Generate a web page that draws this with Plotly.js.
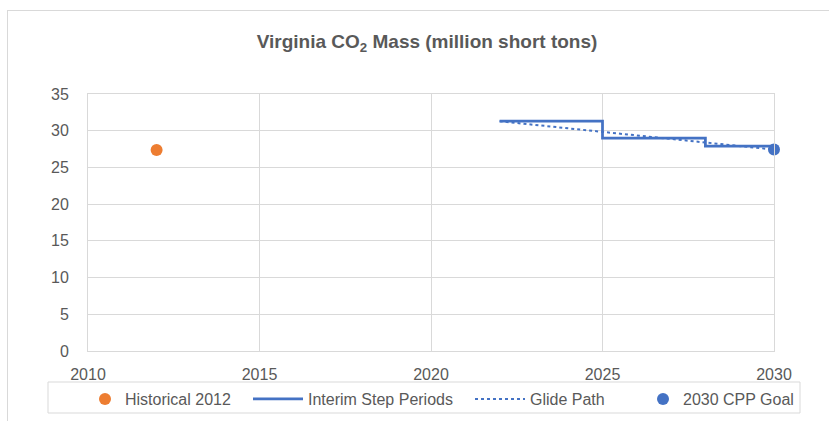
<!DOCTYPE html>
<html><head><meta charset="utf-8">
<script src="https://cdn.plot.ly/plotly-3.0.1.min.js"></script>
<style>
html,body{margin:0;padding:0;background:#fff;overflow:hidden;}
#wrap{position:relative;width:829px;height:421px;}
#chart{position:absolute;left:0;top:0;width:829px;height:421px;}
#frame{position:absolute;left:7px;top:10px;width:900px;height:500px;border:1px solid #d9d9d9;pointer-events:none;}
</style></head>
<body><div id="wrap"><div id="chart"></div><div id="frame"></div></div>
<script>
const histYears = [2012];
const histValues = [27.36];
const stepYears = [2022, 2025, 2028, 2030];
const stepValues = [31.29, 28.99, 27.90, 27.90];
const glideYears = [2022, 2025, 2028, 2030];
const glideValues = [31.29, 29.84, 28.40, 27.43];
const goalYears = [2030];
const goalValues = [27.43];
const seriesNames = ["Historical 2012", "Interim Step Periods", "Glide Path", "2030 CPP Goal"];
const xTicks = [2010, 2015, 2020, 2025, 2030];
const yTicks = [0, 5, 10, 15, 20, 25, 30, 35];

const FONT = "Liberation Sans, Arial, sans-serif";
const TXT = "#595959";
const L = 88, R = 774, T = 94, B = 351;
const px2x = p => (p - L) / (R - L);
const px2y = p => (B - p) / (B - T);

const traces = [
  {x: histYears, y: histValues, name: seriesNames[0], mode: "markers", type: "scatter",
   marker: {color: "#ED7D31", size: 12}, legend: "legend", cliponaxis: false},
  {x: stepYears, y: stepValues, name: seriesNames[1], mode: "lines", type: "scatter",
   line: {color: "#4472C4", width: 2.75, shape: "hv"}, legend: "legend2", cliponaxis: false},
  {x: glideYears, y: glideValues, name: seriesNames[2], mode: "lines", type: "scatter",
   line: {color: "#4472C4", width: 2, dash: "dot"}, legend: "legend3", cliponaxis: false},
  {x: goalYears, y: goalValues, name: seriesNames[3], mode: "markers", type: "scatter",
   marker: {color: "#4472C4", size: 12}, legend: "legend4", cliponaxis: false}
];

function leg(px, iw) {
  return {x: px2x(px), xanchor: "left", y: px2y(382), yanchor: "top", orientation: "h",
    itemwidth: iw, bgcolor: "rgba(0,0,0,0)", borderwidth: 0,
    font: {family: FONT, size: 16, color: TXT}};
}

const layout = {
  width: 829, height: 421,
  margin: {l: L, r: 829 - R, t: T, b: 421 - B, pad: 0, autoexpand: false},
  paper_bgcolor: "rgba(0,0,0,0)", plot_bgcolor: "#fff",
  font: {family: FONT, color: TXT},
  title: {text: "<b>Virginia CO<sub>2</sub> Mass (million short tons)</b>",
    x: 427 / 829, xanchor: "center", y: 1 - 41 / 421, yanchor: "middle",
    xref: "container", yref: "container",
    font: {family: FONT, size: 19, color: TXT}},
  xaxis: {range: [2010, 2030], tickvals: xTicks, ticktext: xTicks.map(String), automargin: false,
    showgrid: true, gridcolor: "#d9d9d9", gridwidth: 1, zeroline: false,
    showline: true, linecolor: "#d9d9d9", linewidth: 1, mirror: true,
    ticks: "", ticklabelstandoff: 9, tickfont: {family: FONT, size: 16, color: TXT}},
  yaxis: {range: [0, 35], tickvals: yTicks, ticktext: yTicks.map(String), automargin: false,
    showgrid: true, gridcolor: "#d9d9d9", gridwidth: 1, zeroline: false,
    showline: true, linecolor: "#d9d9d9", linewidth: 1, mirror: true,
    ticks: "", ticklabelstandoff: 15, tickfont: {family: FONT, size: 16, color: TXT}},
  showlegend: true,
  legend: leg(85, 30), legend2: leg(248, 50), legend3: leg(470, 50), legend4: leg(643, 30),
  shapes: [{type: "rect", xref: "paper", yref: "paper",
    x0: px2x(48), x1: px2x(800), y0: px2y(382), y1: px2y(413),
    line: {color: "#d9d9d9", width: 1}, fillcolor: "rgba(0,0,0,0)", layer: "above"}]
};

Plotly.newPlot("chart", traces, layout, {displayModeBar: false, staticPlot: true});
</script></body></html>
